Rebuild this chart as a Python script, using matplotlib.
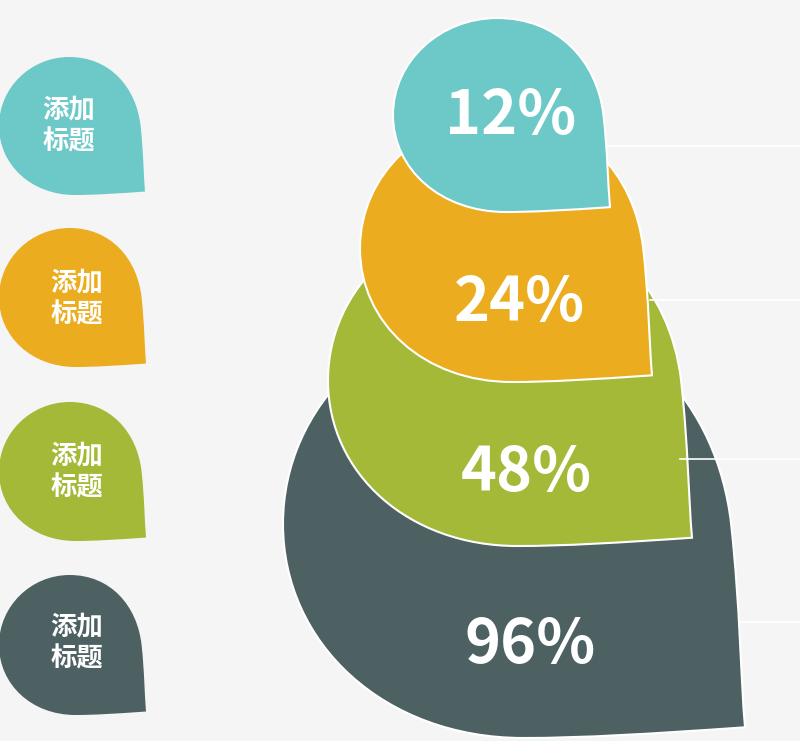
import matplotlib.pyplot as plt
from matplotlib.path import Path
from matplotlib.patches import PathPatch

plt.rcParams['font.family'] = ['Noto Sans CJK SC', 'DejaVu Sans']

# 数据
labels = ['添加', '标题']
values = ['12%', '24%', '48%', '96%']
colors = ['#6CC9C8', '#EBAD1F', '#A3B937', '#4D6163']

# 左侧小水滴 (x0, x1, 上, 下)
small_boxes = [(-1, 145, 57, 195), (-1, 146, 228, 367), (-1, 146, 402, 541), (-1, 146, 575, 715)]
small_text_x = [69, 77, 77, 77]
small_text_y = [110, 283, 456, 627]

# 右侧大水滴
big_boxes = [(393, 610, 18, 212), (360, 652, 115, 382), (328, 692, 215, 546), (283, 745, 310, 738)]
big_text_x = [511, 519, 526, 530]
big_text_y = [116, 303, 473, 645]

# 右侧分隔线
line_y = [146, 300, 459, 622]
line_x0 = [608, 650, 680, 741]

bg = '#F5F5F5'


def drop_path(x0, x1, yt, yb):
    # 归一化坐标下的水滴形状, 右下角为尖角
    pts = [(1.0, 0.975),
           (0.8, 0.99), (0.65, 1.0), (0.52, 1.0),
           (0.22, 1.0), (0.0, 0.78), (0.0, 0.5),
           (0.0, 0.22), (0.22, 0.0), (0.48, 0.0),
           (0.76, 0.0), (0.94, 0.22), (0.97, 0.5),
           (0.99, 0.7), (0.99, 0.85), (1.0, 0.975)]
    codes = [Path.MOVETO] + [Path.CURVE4] * 15
    w, h = x1 - x0, yb - yt
    verts = [(x0 + u * w, yt + v * h) for u, v in pts]
    return Path(verts + [verts[0]], codes + [Path.CLOSEPOLY])


fig = plt.figure(figsize=(8, 7.41), dpi=100, facecolor=bg)
ax = fig.add_axes([0, 0, 1, 1])
ax.set_xlim(0, 800)
ax.set_ylim(741, 0)
ax.axis('off')
ax.set_facecolor(bg)

# 左侧
for i, (x0, x1, yt, yb) in enumerate(small_boxes):
    ax.add_patch(PathPatch(drop_path(x0, x1, yt, yb), facecolor=colors[i], edgecolor='none'))
    ax.text(small_text_x[i], small_text_y[i], labels[0], color='white', fontsize=19,
            fontweight='bold', ha='center', va='center')
    ax.text(small_text_x[i], small_text_y[i] + 32, labels[1], color='white', fontsize=19,
            fontweight='bold', ha='center', va='center')

# 右侧, 从后往前画
for i in range(3, -1, -1):
    x0, x1, yt, yb = big_boxes[i]
    ax.add_patch(PathPatch(drop_path(x0, x1, yt, yb), facecolor=colors[i],
                           edgecolor='white', linewidth=1.5, zorder=2 + (3 - i)))
    ax.text(big_text_x[i], big_text_y[i], values[i], color='white', fontsize=44,
            fontweight='bold', ha='center', va='center', zorder=10)

for y, x in zip(line_y, line_x0):
    ax.plot([x, 800], [y, y], color='white', linewidth=1.2, zorder=9)

plt.savefig('out.png', dpi=100, facecolor=bg)
